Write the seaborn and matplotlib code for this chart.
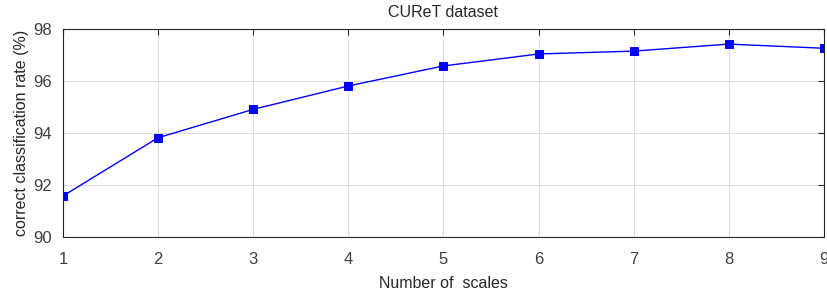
import matplotlib
matplotlib.use("Agg")
import matplotlib.pyplot as plt
import seaborn as sns
import pandas as pd

scales = [1, 2, 3, 4, 5, 6, 7, 8, 9]
rate = [91.58, 93.82, 94.91, 95.81, 96.58, 97.04, 97.15, 97.42, 97.26]

sns.set_theme(style="whitegrid")
plt.rcParams['font.family'] = ['Liberation Sans', 'DejaVu Sans']

df = pd.DataFrame({'scales': scales, 'rate': rate})

fig = plt.figure(figsize=(8.28, 2.96), dpi=100)
ax = fig.add_axes([0.076, 0.199, 0.919, 0.703])
sns.lineplot(data=df, x='scales', y='rate', ax=ax, color='#0000ff', lw=1,
             marker='s', markersize=5.5, markeredgecolor='#0000ff')

ax.set_xlim(1, 9)
ax.set_ylim(90, 98)
ax.set_xticks(range(1, 10))
ax.set_yticks(range(90, 99, 2))
ax.grid(True, color='#dcdcdc', lw=0.8)
for s in ax.spines.values():
    s.set_visible(True)
    s.set_color('#262626')
    s.set_linewidth(0.8)
ax.tick_params(direction='in', length=4, width=0.8, color='#262626',
               top=True, right=True, labelsize=12, labelcolor='#404040')
ax.tick_params(axis='x', pad=11)
ax.tick_params(axis='y', pad=8)
ax.set_xlabel('Number of  scales', fontsize=11.5, color='#262626', labelpad=6)
ax.set_ylabel('correct classification rate (%)', fontsize=11.5, color='#262626', labelpad=3)
ax.set_title('CUReT dataset', fontsize=11.5, color='#262626', pad=9)

fig.savefig('out.png', dpi=100)
